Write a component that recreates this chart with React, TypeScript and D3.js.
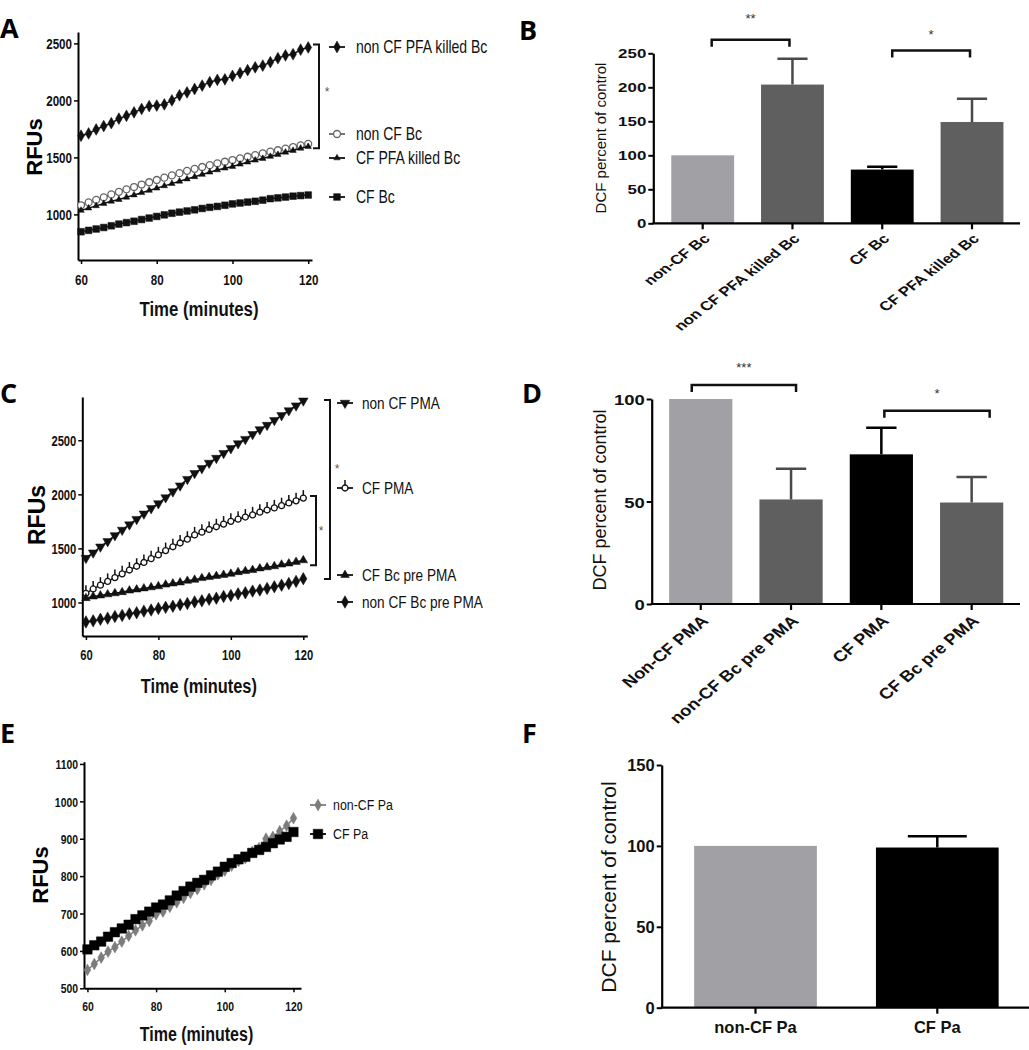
import { useEffect, useRef } from 'react'
import * as d3 from 'd3'

// shared time axis (minutes)
const times = [60, 62, 64, 66, 68, 70, 72, 74, 76, 78, 80, 82, 84, 86, 88, 90, 92, 94, 96, 98, 100, 102, 104, 106, 108, 110, 112, 114, 116, 118, 120]
const timeTicks = [60, 80, 100, 120]

// Panel A
const aNonCfPfa = [1690, 1710, 1745, 1775, 1800, 1840, 1865, 1895, 1925, 1950, 1955, 1965, 2000, 2045, 2070, 2100, 2130, 2160, 2180, 2185, 2215, 2240, 2265, 2290, 2305, 2335, 2370, 2395, 2405, 2445, 2465]
const aNonCfBc = [1080, 1105, 1128, 1150, 1175, 1198, 1220, 1240, 1262, 1282, 1302, 1322, 1342, 1362, 1382, 1400, 1416, 1432, 1448, 1462, 1477, 1492, 1506, 1520, 1535, 1550, 1563, 1577, 1591, 1605, 1618]
const aCfPfa = [1035, 1055, 1075, 1095, 1115, 1130, 1150, 1170, 1190, 1210, 1230, 1250, 1270, 1290, 1310, 1330, 1350, 1370, 1390, 1405, 1420, 1440, 1458, 1475, 1490, 1508, 1525, 1545, 1560, 1580, 1595]
const aCfBc = [848, 860, 872, 885, 900, 915, 928, 940, 955, 968, 982, 996, 1010, 1020, 1030, 1040, 1052, 1062, 1070, 1080, 1092, 1100, 1108, 1115, 1125, 1138, 1145, 1152, 1160, 1165, 1170]
const aLabels = ['non CF PFA killed Bc', 'non CF Bc', 'CF PFA killed Bc', 'CF Bc']
const aYTicks = [1000, 1500, 2000, 2500]

// Panel B
const bCats = ['non-CF Bc', 'non CF PFA killed Bc', 'CF Bc', 'CF PFA killed Bc']
const bValues = [100, 204, 79, 149]
const bErrTop = [0, 242, 83, 183]
const bYTicks = [0, 50, 100, 150, 200, 250]

// Panel C
const cNonCfPma = [1410, 1460, 1515, 1565, 1620, 1670, 1720, 1770, 1820, 1870, 1915, 1970, 2025, 2080, 2140, 2195, 2240, 2290, 2335, 2380, 2425, 2470, 2510, 2555, 2600, 2640, 2685, 2730, 2775, 2820, 2865]
const cCfPma = [1085, 1125, 1160, 1195, 1230, 1265, 1300, 1335, 1370, 1405, 1440, 1480, 1515, 1550, 1585, 1625, 1650, 1675, 1700, 1725, 1750, 1770, 1790, 1810, 1835, 1855, 1875, 1895, 1920, 1940, 1965]
const cCfBcPre = [1040, 1055, 1065, 1075, 1085, 1095, 1110, 1120, 1130, 1140, 1150, 1165, 1175, 1185, 1200, 1210, 1225, 1235, 1245, 1255, 1265, 1280, 1290, 1300, 1315, 1325, 1335, 1350, 1360, 1375, 1390]
const cNonCfBcPre = [820, 830, 845, 855, 870, 880, 895, 905, 920, 930, 945, 955, 965, 980, 990, 1005, 1015, 1030, 1040, 1055, 1065, 1080, 1090, 1105, 1115, 1130, 1145, 1160, 1175, 1195, 1220]
const cLabels = ['non CF PMA', 'CF PMA', 'CF Bc pre PMA', 'non CF Bc pre PMA']
const cYTicks = [1000, 1500, 2000, 2500]

// Panel D
const dCats = ['Non-CF PMA', 'non-CF Bc pre PMA', 'CF PMA', 'CF Bc pre PMA']
const dValues = [100, 51, 73, 49.5]
const dErrTop = [0, 66, 86, 62]
const dYTicks = [0, 50, 100]

// Panel E
const eNonCfPa = [549, 565, 582, 598, 610, 625, 640, 655, 668, 680, 698, 705, 718, 730, 742, 755, 765, 778, 790, 805, 815, 828, 840, 848, 865, 875, 900, 905, 920, 935, 955]
const eCfPa = [604, 615, 625, 638, 650, 660, 670, 685, 695, 705, 716, 724, 735, 748, 760, 772, 782, 790, 802, 812, 825, 835, 845, 852, 862, 870, 878, 888, 898, 905, 918]
const eLabels = ['non-CF Pa', 'CF Pa']
const eYTicks = [500, 600, 700, 800, 900, 1000, 1100]

// Panel F
const fCats = ['non-CF Pa', 'CF Pa']
const fValues = [100, 99]
const fErrTop = [0, 106]
const fYTicks = [0, 50, 100, 150]

const SANS = "'Liberation Sans', Arial, sans-serif"
const LETTER = "'Open Sans', sans-serif"
const NARROW_X = 0.8 // no Arial Narrow installed, squeeze Liberation Sans instead
const LIGHT = '#a1a1a5'
const DARK = '#5f5f5f'

type Series = {
  values: number[]
  label: string
  symbol: d3.SymbolType
  size: number
  fill: string
  stroke: string
  rotate?: number
  stem?: boolean
  legendY: number
}

type Bracket = { x: number; y1: number; y2: number; star: string; sx: number; sy: number }

// text squeezed horizontally (stand-in for a narrow font)
function narrowText(parent: any, x: number, y: number, txt: string | number, size: number, opts: any = {}) {
  return parent.append('g')
    .attr('transform', `translate(${x},${y}) scale(${NARROW_X},1)`)
    .append('text')
    .attr('text-anchor', opts.anchor || 'start')
    .attr('dy', opts.dy || null)
    .attr('font-family', SANS)
    .attr('font-weight', opts.bold ? 'bold' : 'normal')
    .attr('font-size', size)
    .attr('fill', '#111')
    .text(txt)
}

function drawLineChart(svg: any, p: any) {
  const x = d3.scaleLinear().domain(p.xDomain).range(p.xRange)
  const y = d3.scaleLinear().domain(p.yDomain).range(p.yRange)
  const g = svg.append('g')

  const xa = g.append('g')
    .attr('transform', `translate(0,${p.yRange[0]})`)
    .call(d3.axisBottom(x).tickValues(timeTicks).tickSize(4).tickSizeOuter(0))
  xa.select('.domain').attr('stroke-width', 2)
  xa.selectAll('.tick line').attr('stroke-width', 1.5)
  xa.selectAll('text').remove()
  xa.selectAll('.tick').each(function (this: any, d: number) {
    narrowText(d3.select(this), 0, p.xLabelOffset, d, p.tickFont, { anchor: 'middle', bold: true })
  })

  const ya = g.append('g')
    .attr('transform', `translate(${p.xRange[0]},0)`)
    .call(d3.axisLeft(y).tickValues(p.yTicks).tickSize(4).tickSizeOuter(0))
  ya.select('.domain').attr('stroke-width', 2)
  ya.selectAll('.tick line').attr('stroke-width', 1.5)
  ya.selectAll('text').remove()
  ya.selectAll('.tick').each(function (this: any, d: number) {
    narrowText(d3.select(this), -6, 0, d3.format('d')(d), p.tickFont, { anchor: 'end', bold: true, dy: '0.36em' })
  })

  narrowText(g, (p.xRange[0] + p.xRange[1]) / 2 + 4, p.titleY, 'Time (minutes)', p.titleFont, { anchor: 'middle', bold: true })

  g.append('text')
    .attr('transform', `translate(${p.rfuX},${p.rfuY}) rotate(-90)`)
    .attr('text-anchor', 'middle')
    .attr('font-family', SANS).attr('font-weight', 'bold').attr('font-size', p.rfuFont)
    .text('RFUs')

  const line = d3.line<number>().x((_, i) => x(times[i])).y(d => y(d))

  const drawMarker = (sel: any, s: Series) => {
    if (s.stem) {
      sel.append('line').attr('x1', 0).attr('x2', 0).attr('y1', -8).attr('y2', 0)
        .attr('stroke', s.stroke).attr('stroke-width', 1.5)
    }
    sel.append('path')
      .attr('d', d3.symbol().type(s.symbol).size(s.size)())
      .attr('transform', s.rotate ? `rotate(${s.rotate})` : null)
      .attr('fill', s.fill)
      .attr('stroke', s.stroke)
      .attr('stroke-width', s.fill === 'white' ? 1.3 : 0.5)
  }

  p.series.forEach((s: Series) => {
    g.append('path').datum(s.values).attr('d', line)
      .attr('fill', 'none').attr('stroke', s.stroke).attr('stroke-width', 1.5)
    s.values.forEach((v, i) => {
      const m = g.append('g').attr('transform', `translate(${x(times[i])},${y(v)})`)
      drawMarker(m, s)
    })
    // legend
    g.append('line')
      .attr('x1', p.legendX - 8).attr('x2', p.legendX + 8)
      .attr('y1', s.legendY).attr('y2', s.legendY)
      .attr('stroke', s.stroke).attr('stroke-width', 1.8)
    const lm = g.append('g').attr('transform', `translate(${p.legendX},${s.legendY})`)
    drawMarker(lm, s)
    narrowText(g, p.legendX + p.legendGap, s.legendY, s.label, p.legendFont, { dy: '0.35em' })
  })

  ;(p.brackets || []).forEach((b: Bracket) => {
    const yy1 = y(b.y1)
    const yy2 = y(b.y2)
    g.append('path')
      .attr('d', `M${b.x - 6},${yy1}H${b.x}V${yy2}H${b.x - 6}`)
      .attr('fill', 'none').attr('stroke', '#111').attr('stroke-width', 2)
    g.append('text')
      .attr('x', b.sx).attr('y', b.sy)
      .attr('text-anchor', 'middle')
      .attr('font-family', SANS).attr('font-size', 12).attr('fill', '#555')
      .text(b.star)
  })
}

function drawBarChart(svg: any, p: any) {
  const x = d3.scaleBand<string>().domain(p.cats).range(p.bandRange)
    .paddingInner(p.pad).paddingOuter(p.pad / 2)
  const y = d3.scaleLinear().domain(p.yDomain).range(p.yRange)
  const g = svg.append('g')
  const bw = x.bandwidth()

  g.selectAll('.bar')
    .data(p.values)
    .enter().append('rect')
    .attr('x', (_: number, i: number) => x(p.cats[i]))
    .attr('y', (d: number) => y(d))
    .attr('width', bw)
    .attr('height', (d: number) => y(0) - y(d))
    .attr('fill', (_: number, i: number) => p.colors[i])

  // error bars (upper only)
  p.errTop.forEach((e: number, i: number) => {
    if (!e) return
    const cx = (x(p.cats[i]) as number) + bw / 2
    const col = p.colors[i] === '#000' ? '#000' : '#4a4a4a'
    g.append('path')
      .attr('d', `M${cx},${y(p.values[i])}V${y(e)}M${cx - bw * 0.24},${y(e)}H${cx + bw * 0.24}`)
      .attr('fill', 'none').attr('stroke', col).attr('stroke-width', 2.5)
  })

  // y axis
  const ya = g.append('g')
    .attr('transform', `translate(${p.axisX},0)`)
    .call(d3.axisLeft(y).tickValues(p.yTicks).tickSize(5).tickPadding(0).tickSizeOuter(0))
  ya.select('.domain').attr('stroke-width', 2.2)
  ya.selectAll('.tick line').attr('stroke-width', 2)
  ya.selectAll('text').remove()
  ya.selectAll('.tick').append('g')
    .attr('transform', `translate(-7,0) scale(${p.sx},1)`)
    .append('text')
    .attr('text-anchor', 'end').attr('dy', '0.36em')
    .attr('font-family', SANS).attr('font-weight', 'bold').attr('font-size', p.tickFont).attr('fill', '#111')
    .text((d: number) => d)

  // x axis
  const xa = g.append('g')
    .attr('transform', `translate(0,${y(0)})`)
    .call(d3.axisBottom(x).tickSize(6).tickSizeOuter(0))
  xa.select('.domain').remove()
  xa.selectAll('.tick line').attr('stroke-width', 2.2)
  xa.selectAll('text').remove()
  xa.append('line')
    .attr('x1', p.axisX - 1).attr('x2', p.axisEnd)
    .attr('stroke', '#000').attr('stroke-width', 2.2)
  if (p.rotate) {
    xa.selectAll('.tick').append('g')
      .attr('transform', `translate(${p.labelDx},${p.labelDy}) scale(${p.sx},1) rotate(-45)`)
      .append('text')
      .attr('text-anchor', 'end').attr('dy', '0.35em')
      .attr('font-family', SANS).attr('font-weight', 'bold').attr('font-size', p.catFont).attr('fill', '#111')
      .text((d: string) => d)
  } else {
    xa.selectAll('.tick').append('text')
      .attr('y', p.labelDy)
      .attr('text-anchor', 'middle')
      .attr('font-family', SANS).attr('font-weight', 'bold').attr('font-size', p.catFont).attr('fill', '#111')
      .text((d: string) => d)
  }

  g.append('text')
    .attr('transform', `translate(${p.titleX},${p.titleY}) rotate(-90)`)
    .attr('text-anchor', 'middle')
    .attr('font-family', SANS).attr('font-size', p.titleFont).attr('fill', '#111')
    .text('DCF percent of control')

  ;(p.brackets || []).forEach((b: any) => {
    const x1 = (x(p.cats[b.from]) as number) + bw / 2 + b.d1
    const x2 = (x(p.cats[b.to]) as number) + bw / 2 + b.d2
    const yy = y(b.y)
    g.append('path')
      .attr('d', `M${x1},${yy + 7}V${yy}H${x2}V${yy + 7}`)
      .attr('fill', 'none').attr('stroke', '#111').attr('stroke-width', 2.5)
    g.append('text')
      .attr('x', (x1 + x2) / 2).attr('y', yy - b.starGap)
      .attr('text-anchor', 'middle')
      .attr('font-family', SANS).attr('font-size', 13).attr('fill', '#333')
      .text(b.star)
  })
}

export default function App() {
  const svgRef = useRef<SVGSVGElement>(null)

  useEffect(() => {
    if (!svgRef.current) return
    const svg = d3.select(svgRef.current)
    svg.selectAll('*').remove()

    svg.append('rect').attr('width', 1029).attr('height', 1050).attr('fill', 'white')

    // panel letters
    const letters = [
      { t: 'A', x: 0, y: 38 }, { t: 'B', x: 519, y: 40 },
      { t: 'C', x: 0, y: 403 }, { t: 'D', x: 522, y: 403 },
      { t: 'E', x: 0, y: 743 }, { t: 'F', x: 522, y: 743 },
    ]
    svg.selectAll('.letter').data(letters).enter().append('text')
      .attr('x', d => d.x).attr('y', d => d.y)
      .attr('font-family', LETTER).attr('font-weight', 'bold').attr('font-size', 27)
      .text(d => d.t)

    drawLineChart(svg, {
      xDomain: [59.2, 121], xRange: [78, 312],
      yDomain: [600, 2600], yRange: [260, 32],
      yTicks: aYTicks, tickFont: 14.5, xLabelOffset: 25,
      titleY: 316, titleFont: 21, rfuX: 42, rfuY: 147, rfuFont: 22,
      legendX: 337, legendGap: 19, legendFont: 17.5,
      series: [
        { values: aNonCfPfa, label: aLabels[0], symbol: d3.symbolDiamond, size: 40, fill: '#111', stroke: '#111', legendY: 47 },
        { values: aNonCfBc, label: aLabels[1], symbol: d3.symbolCircle, size: 38, fill: 'white', stroke: '#666', legendY: 134 },
        { values: aCfPfa, label: aLabels[2], symbol: d3.symbolTriangle, size: 18, fill: '#111', stroke: '#111', legendY: 158 },
        { values: aCfBc, label: aLabels[3], symbol: d3.symbolSquare, size: 45, fill: '#111', stroke: '#111', legendY: 197 },
      ],
      brackets: [{ x: 319, y1: 2490, y2: 1580, star: '*', sx: 327, sy: 96 }],
    })

    drawBarChart(svg, {
      cats: bCats, values: bValues, errTop: bErrTop, colors: [LIGHT, DARK, '#000', DARK],
      bandRange: [657.8, 1016.9], pad: 0.3, yDomain: [0, 250], yRange: [223.3, 53.3],
      yTicks: bYTicks, axisX: 653.3, axisEnd: 1020, sx: 1.3, tickFont: 13,
      rotate: true, catFont: 13, labelDx: 4, labelDy: 13,
      titleX: 606, titleY: 138, titleFont: 15,
      brackets: [
        { from: 0, to: 1, y: 270, d1: 9, d2: -3, star: '**', starGap: 17 },
        { from: 2, to: 3, y: 254, d1: 10, d2: -2, star: '*', starGap: 12 },
      ],
    })

    drawLineChart(svg, {
      xDomain: [59, 121.1], xRange: [82.3, 307.3],
      yDomain: [690, 2900], yRange: [636, 397],
      yTicks: cYTicks, tickFont: 14, xLabelOffset: 24,
      titleY: 693, titleFont: 20.5, rfuX: 45, rfuY: 515, rfuFont: 23,
      legendX: 345, legendGap: 17, legendFont: 17,
      series: [
        { values: cNonCfPma, label: cLabels[0], symbol: d3.symbolTriangle, size: 40, fill: '#111', stroke: '#111', rotate: 180, legendY: 403 },
        { values: cCfPma, label: cLabels[1], symbol: d3.symbolCircle, size: 28, fill: 'white', stroke: '#111', stem: true, legendY: 488 },
        { values: cCfBcPre, label: cLabels[2], symbol: d3.symbolTriangle, size: 32, fill: '#111', stroke: '#111', legendY: 575 },
        { values: cNonCfBcPre, label: cLabels[3], symbol: d3.symbolDiamond, size: 45, fill: '#111', stroke: '#111', legendY: 602 },
      ],
      brackets: [
        { x: 330, y1: 2872, y2: 1217, star: '*', sx: 337, sy: 473 },
        { x: 316, y1: 1985, y2: 1344, star: '*', sx: 321, sy: 535 },
      ],
    })

    drawBarChart(svg, {
      cats: dCats, values: dValues, errTop: dErrTop, colors: [LIGHT, DARK, '#000', DARK],
      bandRange: [655.6, 1016.8], pad: 0.3, yDomain: [0, 100], yRange: [604, 399],
      yTicks: dYTicks, axisX: 651.7, axisEnd: 1020, sx: 1.19, tickFont: 15.5,
      rotate: true, catFont: 15.5, labelDx: 4, labelDy: 14,
      titleX: 606, titleY: 500, titleFont: 18,
      brackets: [
        { from: 0, to: 1, y: 106.8, d1: -9, d2: 5, star: '***', starGap: 13 },
        { from: 2, to: 3, y: 94.3, d1: 3, d2: 18, star: '*', starGap: 13 },
      ],
    })

    drawLineChart(svg, {
      xDomain: [59, 122.2], xRange: [84, 301],
      yDomain: [500, 1106], yRange: [988.3, 761.7],
      yTicks: eYTicks, tickFont: 13, xLabelOffset: 23,
      titleY: 1041, titleFont: 20, rfuX: 48, rfuY: 875, rfuFont: 22,
      legendX: 318, legendGap: 15, legendFont: 15.5,
      series: [
        { values: eNonCfPa, label: eLabels[0], symbol: d3.symbolDiamond, size: 40, fill: '#7c7c7c', stroke: '#7c7c7c', legendY: 805 },
        { values: eCfPa, label: eLabels[1], symbol: d3.symbolSquare, size: 90, fill: '#000', stroke: '#000', legendY: 834 },
      ],
    })

    drawBarChart(svg, {
      cats: fCats, values: fValues, errTop: fErrTop, colors: [LIGHT, '#000'],
      bandRange: [664.6, 1028.2], pad: 0.325, yDomain: [0, 150], yRange: [1007.7, 765],
      yTicks: fYTicks, axisX: 661.7, axisEnd: 1029, sx: 1, tickFont: 16.5,
      rotate: false, catFont: 16.5, labelDx: 0, labelDy: 25,
      titleX: 616, titleY: 887, titleFont: 21,
    })
  }, [])

  return (
    <div style={{ position: 'absolute', left: 0, top: 0 }}>
      <svg ref={svgRef} width={1029} height={1050} style={{ display: 'block' }} />
    </div>
  )
}
